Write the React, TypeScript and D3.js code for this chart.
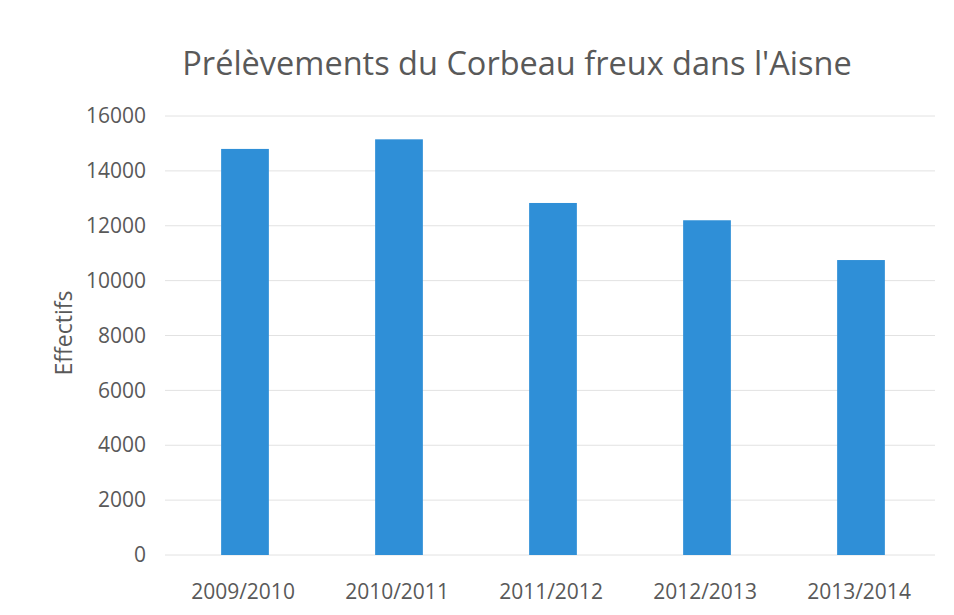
import React, { useEffect, useRef } from "react";
import * as d3 from "d3";

const seasons = ["2009/2010", "2010/2011", "2011/2012", "2012/2013", "2013/2014"];
const prelevements = [14800, 15150, 12830, 12200, 10750];
const yTicks = [0, 2000, 4000, 6000, 8000, 10000, 12000, 14000, 16000];

const W = 954;
const H = 615;
const FONT = "'Open Sans', sans-serif";

const App = () => {
  const ref = useRef<SVGSVGElement>(null);

  useEffect(() => {
    const svg = d3.select(ref.current);
    svg.selectAll("*").remove();

    const left = 168,
      right = 938,
      top = 116,
      bottom = 555;

    const x = d3
      .scaleBand()
      .domain(seasons)
      .range([left, right])
      .paddingInner(0.69)
      .paddingOuter(0.345);
    const y = d3.scaleLinear().domain([0, 16000]).range([bottom, top]);

    svg.append("rect").attr("width", W).attr("height", H).attr("fill", "#fff");

    // grid
    svg
      .append("g")
      .selectAll("line")
      .data(yTicks)
      .join("line")
      .attr("x1", left - 3)
      .attr("x2", right - 3)
      .attr("y1", (d) => y(d))
      .attr("y2", (d) => y(d))
      .attr("stroke", "#e2e2e2")
      .attr("stroke-width", 1);

    // bars
    svg
      .append("g")
      .selectAll("rect")
      .data(prelevements)
      .join("rect")
      .attr("x", (_, i) => x(seasons[i])!)
      .attr("width", x.bandwidth())
      .attr("y", (d) => y(d))
      .attr("height", (d) => y(0) - y(d))
      .attr("fill", "#2f8fd7");

    // y axis
    const yAxis = svg
      .append("g")
      .attr("transform", `translate(146,0)`)
      .call(
        d3
          .axisLeft(y)
          .tickValues(yTicks)
          .tickFormat(d3.format("d"))
          .tickSize(0)
          .tickPadding(0)
      );
    yAxis.select(".domain").remove();
    yAxis
      .selectAll("text")
      .attr("font-family", FONT)
      .attr("font-size", 21)
      .attr("fill", "#595959");

    // x axis
    const xAxis = svg
      .append("g")
      .attr("transform", `translate(-2,${bottom + 29})`)
      .call(d3.axisBottom(x).tickSize(0).tickPadding(0));
    xAxis.select(".domain").remove();
    xAxis
      .selectAll("text")
      .attr("font-family", FONT)
      .attr("font-size", 21)
      .attr("fill", "#595959");

    // axis title
    svg
      .append("text")
      .attr("transform", `translate(72,333) rotate(-90)`)
      .attr("text-anchor", "middle")
      .attr("font-family", FONT)
      .attr("font-size", 23)
      .attr("fill", "#595959")
      .text("Effectifs");

    // title
    svg
      .append("text")
      .attr("x", 517)
      .attr("y", 75)
      .attr("text-anchor", "middle")
      .attr("font-family", FONT)
      .attr("font-size", 32.5)
      .attr("fill", "#595959")
      .text("Prélèvements du Corbeau freux dans l'Aisne");
  }, []);

  return (
    <svg
      ref={ref}
      width={W}
      height={H}
      style={{ position: "absolute", left: 0, top: 0 }}
    />
  );
};

export default App;
